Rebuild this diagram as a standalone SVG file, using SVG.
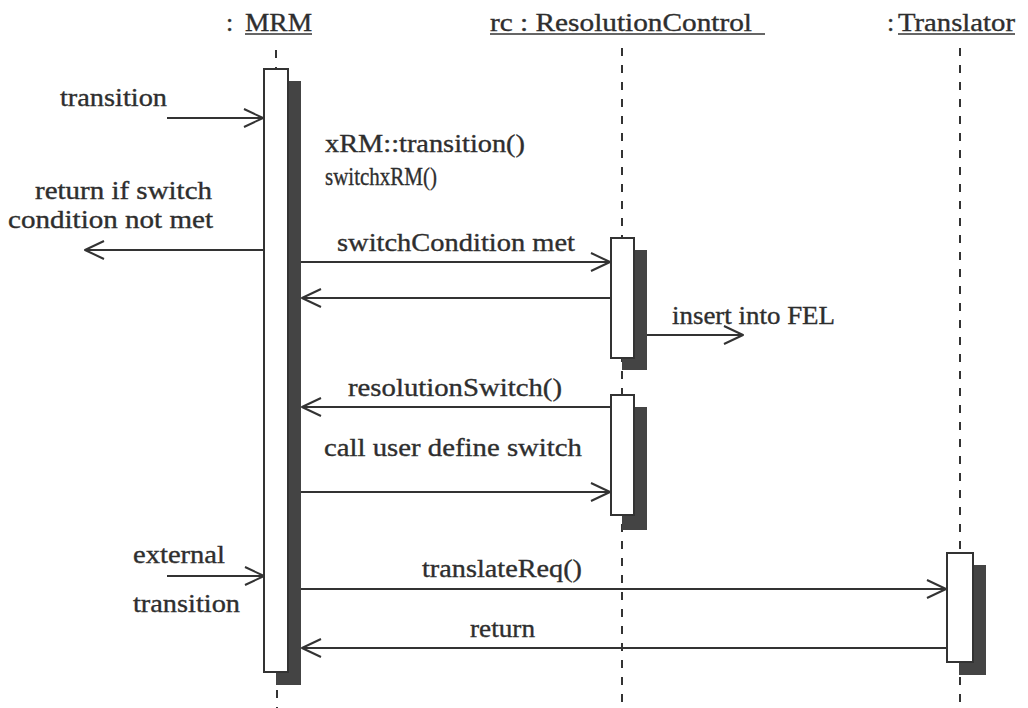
<svg xmlns="http://www.w3.org/2000/svg" width="1028" height="708" viewBox="0 0 1028 708">
  <style>
    text { font-family: "Liberation Serif", "Times New Roman", serif; font-size: 26px; fill: #2e2e2e; stroke: #2e2e2e; stroke-width: 0.35; }
    .tight { font-size: 25px; }
    .life { stroke: #333; stroke-width: 2; stroke-dasharray: 8 9; fill: none; }
    .act { fill: #fff; stroke: #333; stroke-width: 2; }
    .shadow { fill: #444; stroke: none; }
    .ul { stroke: #333; stroke-width: 1.6; }
    .msg { stroke: #333; stroke-width: 2; fill: none; marker-end: url(#open); }
  </style>
  <defs>
    <marker id="open" viewBox="0 0 22 22" refX="20" refY="11" markerWidth="22" markerHeight="22" markerUnits="userSpaceOnUse" orient="auto">
      <path d="M1,2 L20,11 L1,20" fill="none" stroke="#333" stroke-width="2" stroke-linejoin="round"/>
    </marker>
  </defs>
  <rect width="1028" height="708" fill="#fff"/>

  <!-- MRM object with its lifeline and activation -->
  <g id="node-mrm">
    <text x="226" y="31">:</text>
    <text x="245" y="31" textLength="67" lengthAdjust="spacingAndGlyphs">MRM</text>
    <line class="ul" x1="245" y1="34" x2="312" y2="34"/>
    <line class="life" x1="276" y1="50" x2="276" y2="69"/>
    <line class="life" x1="277" y1="690" x2="277" y2="708"/>
    <rect class="shadow" x="276" y="81" width="25" height="604"/>
    <rect class="act" x="264" y="69" width="24" height="603"/>
  </g>

  <!-- ResolutionControl object -->
  <g id="node-rc">
    <text x="490" y="31" textLength="262" lengthAdjust="spacingAndGlyphs">rc : ResolutionControl</text>
    <line class="ul" x1="490" y1="34" x2="765" y2="34"/>
    <line class="life" x1="622" y1="48" x2="622" y2="708"/>
    <rect class="shadow" x="622" y="250" width="25" height="120"/>
    <rect class="act" x="611" y="238" width="23" height="120"/>
    <rect class="shadow" x="622" y="407" width="25" height="123"/>
    <rect class="act" x="611" y="395" width="23" height="120"/>
  </g>

  <!-- Translator object -->
  <g id="node-translator">
    <text x="887" y="31">:</text>
    <text x="898" y="31" textLength="117" lengthAdjust="spacingAndGlyphs">Translator</text>
    <line class="ul" x1="898" y1="34" x2="1015" y2="34"/>
    <line class="life" x1="960" y1="48" x2="960" y2="708"/>
    <rect class="shadow" x="959" y="565" width="27" height="110"/>
    <rect class="act" x="947" y="553" width="26" height="109"/>
  </g>

  <!-- messages -->
  <g id="connectors">
    <line class="msg" x1="167" y1="118" x2="263" y2="118"/>
    <line class="msg" x1="264" y1="250" x2="85" y2="250"/>
    <line class="msg" x1="301" y1="262" x2="610" y2="262"/>
    <line class="msg" x1="611" y1="298" x2="302" y2="298"/>
    <line class="msg" x1="647" y1="335" x2="743" y2="335"/>
    <line class="msg" x1="611" y1="407" x2="302" y2="407"/>
    <line class="msg" x1="301" y1="492" x2="610" y2="492"/>
    <line class="msg" x1="167" y1="576" x2="264" y2="576"/>
    <line class="msg" x1="301" y1="589" x2="946" y2="589"/>
    <line class="msg" x1="947" y1="648" x2="302" y2="648"/>
  </g>

  <!-- message labels -->
  <g id="labels">
    <text x="60" y="106" textLength="107" lengthAdjust="spacingAndGlyphs">transition</text>
    <text x="325" y="152" textLength="200" lengthAdjust="spacingAndGlyphs">xRM::transition()</text>
    <text x="325" y="185" textLength="112" lengthAdjust="spacingAndGlyphs">switchxRM()</text>
    <text class="tight" x="35" y="199" textLength="177" lengthAdjust="spacingAndGlyphs">return if switch</text>
    <text class="tight" x="8" y="228" textLength="205" lengthAdjust="spacingAndGlyphs">condition not met</text>
    <text x="337" y="251" textLength="238" lengthAdjust="spacingAndGlyphs">switchCondition met</text>
    <text x="672" y="324" textLength="163" lengthAdjust="spacingAndGlyphs">insert into FEL</text>
    <text x="348" y="396" textLength="214" lengthAdjust="spacingAndGlyphs">resolutionSwitch()</text>
    <text x="324" y="456" textLength="258" lengthAdjust="spacingAndGlyphs">call user define switch</text>
    <text x="133" y="563" textLength="92" lengthAdjust="spacingAndGlyphs">external</text>
    <text x="133" y="612" textLength="107" lengthAdjust="spacingAndGlyphs">transition</text>
    <text x="422" y="577" textLength="160" lengthAdjust="spacingAndGlyphs">translateReq()</text>
    <text x="470" y="637" textLength="65" lengthAdjust="spacingAndGlyphs">return</text>
  </g>
</svg>
